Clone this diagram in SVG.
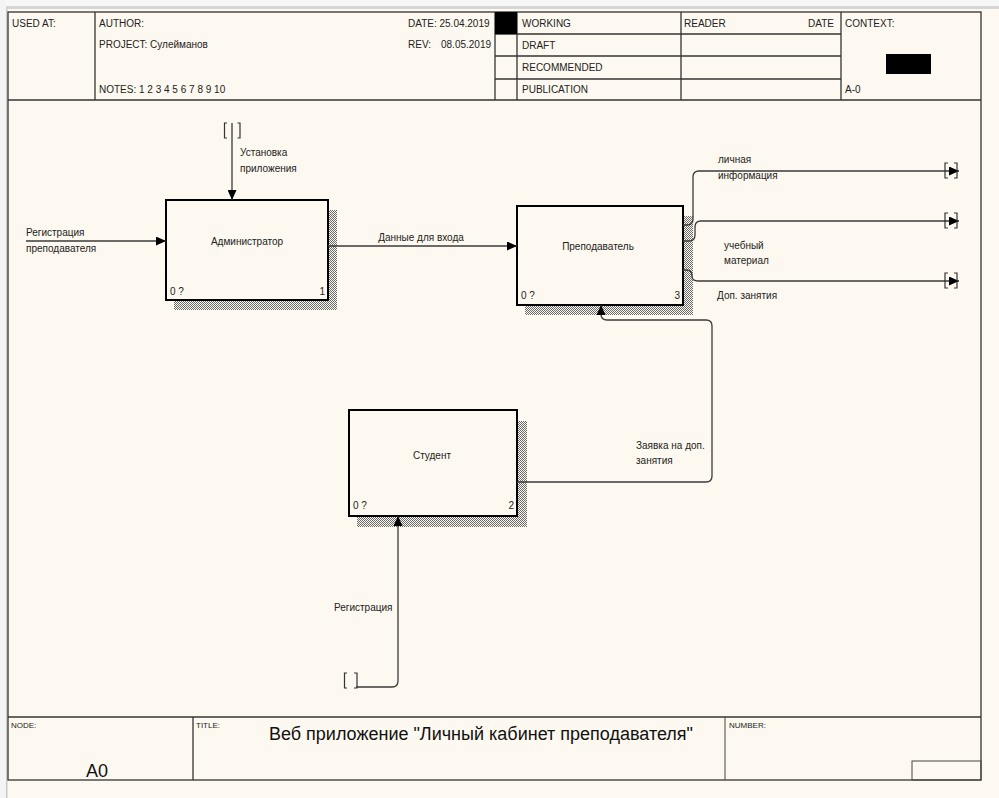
<svg xmlns="http://www.w3.org/2000/svg" width="999" height="798" viewBox="0 0 999 798">
<defs>
<pattern id="hatch" width="2" height="2" patternUnits="userSpaceOnUse">
<rect width="2" height="2" fill="#fdf9f0"/>
<rect width="1" height="1" fill="#6a6a6a"/>
<rect x="1" y="1" width="1" height="1" fill="#6a6a6a"/>
</pattern>
<marker id="arr" markerUnits="userSpaceOnUse" markerWidth="11" markerHeight="9" refX="10" refY="4.5" orient="auto">
<path d="M0,0 L10,4.5 L0,9 z" fill="#000"/>
</marker>
<style>
text{font-family:"Liberation Sans",Arial,sans-serif;fill:#222;}
.h{font-size:10px;}
.l{font-size:10px;}
.s{font-size:8px;}
.big{font-size:18px;fill:#111;}
.frame{fill:none;stroke:#333;stroke-width:1.3;}
.thin{fill:none;stroke:#444;stroke-width:1;}
.box{fill:#fdf9f0;stroke:#000;stroke-width:2;}
.conn{fill:none;stroke:#3a3a3a;stroke-width:1.3;}
.br{fill:none;stroke:#333;stroke-width:1.2;}
</style>
</defs>
<rect x="0" y="0" width="999" height="798" fill="#fdf9f0"/>
<rect x="0" y="0" width="999" height="7" fill="#f7f7f7"/>
<rect x="0" y="6" width="999" height="3" fill="#d6d6d6"/>
<rect x="0" y="0" width="6" height="798" fill="#f4f4f4"/>
<rect x="6" y="9" width="1.5" height="789" fill="#c9c9c9"/>

<g id="frame">
<rect class="frame" x="8" y="12" width="973" height="768"/>
<line class="frame" x1="8" y1="100" x2="981" y2="100"/>
<line class="frame" x1="95" y1="12" x2="95" y2="100"/>
<line class="frame" x1="495" y1="12" x2="495" y2="100"/>
<line class="frame" x1="517" y1="12" x2="517" y2="100"/>
<line class="frame" x1="681" y1="12" x2="681" y2="100"/>
<line class="frame" x1="841" y1="12" x2="841" y2="100"/>
<line class="frame" x1="495" y1="34" x2="841" y2="34"/>
<line class="frame" x1="495" y1="56" x2="841" y2="56"/>
<line class="frame" x1="495" y1="79" x2="841" y2="79"/>
<rect x="495" y="12" width="22" height="22" fill="#000"/>
<rect x="886" y="54" width="45" height="20" fill="#000"/>
<text class="h" x="12" y="27">USED AT:</text>
<text class="h" x="99" y="27">AUTHOR:</text>
<text class="h" x="99" y="48">PROJECT:  Сулейманов</text>
<text class="h" x="99" y="93">NOTES:  1  2  3  4  5  6  7  8  9  10</text>
<text class="h" x="408" y="27">DATE:  25.04.2019</text>
<text class="h" x="408" y="48">REV:</text>
<text class="h" x="441" y="48">08.05.2019</text>
<text class="h" x="522" y="27">WORKING</text>
<text class="h" x="522" y="49">DRAFT</text>
<text class="h" x="522" y="71">RECOMMENDED</text>
<text class="h" x="522" y="93">PUBLICATION</text>
<text class="h" x="684" y="27">READER</text>
<text class="h" x="834" y="27" text-anchor="end">DATE</text>
<text class="h" x="845" y="27">CONTEXT:</text>
<text class="h" x="845" y="93">A-0</text>
<line class="frame" x1="8" y1="717" x2="981" y2="717"/>
<line class="frame" x1="193" y1="717" x2="193" y2="780"/>
<line class="thin" x1="725" y1="717" x2="725" y2="780"/>
<rect class="thin" x="912" y="761" width="69" height="19"/>
<text class="s" x="11" y="728">NODE:</text>
<text class="s" x="196" y="728">TITLE:</text>
<text class="s" x="729" y="728">NUMBER:</text>
<text class="big" x="97" y="777" text-anchor="middle">A0</text>
<text class="big" x="481" y="740" text-anchor="middle">Веб приложение "Личный кабинет преподавателя"</text>
</g>

<g id="node1">
<rect x="174" y="210" width="163" height="100" fill="url(#hatch)"/>
<rect class="box" x="166" y="200" width="162" height="100"/>
<text class="l" x="247" y="245" text-anchor="middle">Администратор</text>
<text class="l" x="170" y="295">0 ?</text>
<text class="l" x="325" y="295" text-anchor="end">1</text>
</g>

<g id="node3">
<rect x="525" y="216" width="168" height="99" fill="url(#hatch)"/>
<rect class="box" x="517" y="206" width="166" height="99"/>
<text class="l" x="598" y="250" text-anchor="middle">Преподаватель</text>
<text class="l" x="521" y="299">0 ?</text>
<text class="l" x="680" y="299" text-anchor="end">3</text>
</g>

<g id="node2">
<rect x="357" y="421" width="170" height="106" fill="url(#hatch)"/>
<rect class="box" x="349" y="410" width="168" height="106"/>
<text class="l" x="432" y="459" text-anchor="middle">Студент</text>
<text class="l" x="353" y="509">0 ?</text>
<text class="l" x="514" y="509" text-anchor="end">2</text>
</g>

<g id="connectors">
<path class="conn" d="M26,241 H166" marker-end="url(#arr)"/>
<text class="l" x="26" y="236">Регистрация</text>
<text class="l" x="26" y="252">преподавателя</text>

<path class="br" d="M227,123 H224.5 V138 H227 M237.5,123 H240 V138 H237.5"/>
<path class="conn" d="M232,123 V200" marker-end="url(#arr)"/>
<text class="l" x="240" y="156">Установка</text>
<text class="l" x="240" y="172">приложения</text>

<path class="conn" d="M328,246 H517" marker-end="url(#arr)"/>
<text class="l" x="421" y="241" text-anchor="middle">Данные для входа</text>

<path class="conn" d="M683,225 H687 Q693,225 693,219 V177 Q693,171 699,171 H959" marker-end="url(#arr)"/>
<path class="br" d="M948,163 H945 V178 H948 M954,163 H957 V178 H954"/>
<text class="l" x="718" y="163">личная</text>
<text class="l" x="718" y="179">информация</text>

<path class="conn" d="M683,241 H689 Q695,241 695,235 V227 Q695,221 701,221 H959" marker-end="url(#arr)"/>
<path class="br" d="M948,213 H945 V228 H948 M954,213 H957 V228 H954"/>
<text class="l" x="724" y="249">учебный</text>
<text class="l" x="724" y="264">материал</text>

<path class="conn" d="M683,270 H686 Q692,270 692,276 Q692,281 698,281 H959" marker-end="url(#arr)"/>
<path class="br" d="M948,273 H945 V288 H948 M954,273 H957 V288 H954"/>
<text class="l" x="717" y="299">Доп. занятия</text>

<path class="conn" d="M517,482 H706 Q712,482 712,476 V326 Q712,320 706,320 H607 Q601,320 601,314 V305" marker-end="url(#arr)"/>
<text class="l" x="636" y="449">Заявка на доп.</text>
<text class="l" x="636" y="464">занятия</text>

<path class="br" d="M347,673 H344.5 V688 H347 M354,673 H357 V688 H354"/>
<path class="conn" d="M356,687 H392 Q398,687 398,681 V516" marker-end="url(#arr)"/>
<text class="l" x="334" y="611">Регистрация</text>
</g>
</svg>
